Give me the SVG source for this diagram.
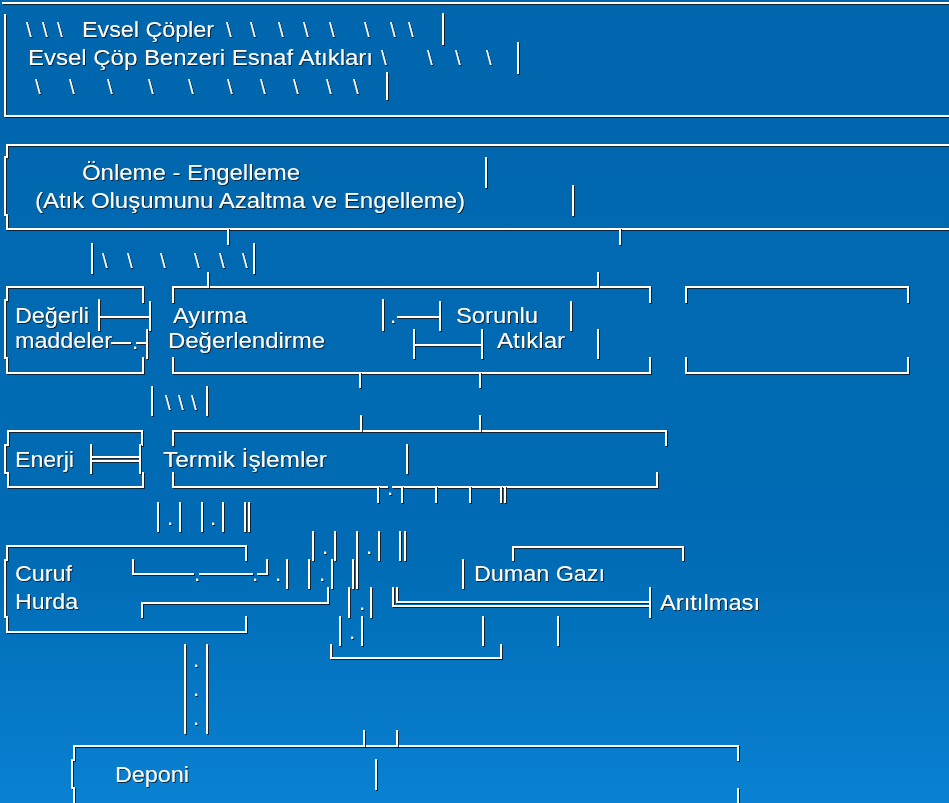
<svg xmlns="http://www.w3.org/2000/svg" width="949" height="803" viewBox="0 0 949 803">
<defs>
<linearGradient id="bg" x1="0" y1="0" x2="0" y2="1">
<stop offset="0" stop-color="#0066ad"/>
<stop offset="0.7" stop-color="#006cb5"/>
<stop offset="1" stop-color="#0a81d2"/>
</linearGradient>
<filter id="sh" x="-5%" y="-5%" width="110%" height="110%">
<feDropShadow dx="1" dy="1" stdDeviation="0.3" flood-color="#081828" flood-opacity="0.85"/>
</filter>
</defs>
<style>
.ln{fill:none;stroke:#ffffff;stroke-width:2;stroke-linecap:square;}
.t{font-family:"Liberation Sans",Arial,sans-serif;font-size:22px;fill:#ffffff;}
.bs{font-family:"Liberation Sans",Arial,sans-serif;font-size:20px;fill:#ffffff;}
.sh{filter:url(#sh);}
</style>
<rect width="949" height="803" fill="url(#bg)"/>

<g id="evsel" class="sh">
<path class="ln" d="M3,3 H949 M5,15 V114 M5,116 H949 M443,14 V44 M518,43 V73 M387,73 V99"/>
<text class="bs" y="37"><tspan x="26">\</tspan><tspan x="42">\</tspan><tspan x="57">\</tspan></text>
<text class="t" x="82" y="37" textLength="132" lengthAdjust="spacingAndGlyphs">Evsel Çöpler</text>
<text class="bs" y="37"><tspan x="226">\</tspan><tspan x="250">\</tspan><tspan x="278">\</tspan><tspan x="303">\</tspan><tspan x="329">\</tspan><tspan x="364">\</tspan><tspan x="390">\</tspan><tspan x="408">\</tspan></text>
<text class="t" x="28" y="65" textLength="345" lengthAdjust="spacingAndGlyphs">Evsel Çöp Benzeri Esnaf Atıkları</text>
<text class="bs" y="65"><tspan x="381">\</tspan><tspan x="427">\</tspan><tspan x="455">\</tspan><tspan x="486">\</tspan></text>
<text class="bs" y="94"><tspan x="35">\</tspan><tspan x="69">\</tspan><tspan x="107">\</tspan><tspan x="148">\</tspan><tspan x="188">\</tspan><tspan x="227">\</tspan><tspan x="260">\</tspan><tspan x="293">\</tspan><tspan x="326">\</tspan><tspan x="353">\</tspan></text>
</g>

<g id="onleme" class="sh">
<path class="ln" d="M949,145 H7 V157 H5 V215 H7 V229 H949 M486,158 V187 M573,186 V215"/>
<text class="t" x="82" y="180" textLength="218" lengthAdjust="spacingAndGlyphs">Önleme - Engelleme</text>
<text class="t" x="35" y="208" textLength="430" lengthAdjust="spacingAndGlyphs">(Atık Oluşumunu Azaltma ve Engelleme)</text>
</g>

<g id="degerli" class="sh">
<path class="ln" d="M143,302 V287 H7 V300 H5 V358 H7 V373 H143 V358"/>
<text class="t" x="15" y="323" textLength="74" lengthAdjust="spacingAndGlyphs">Değerli</text>
<text class="t" x="15" y="348" textLength="97" lengthAdjust="spacingAndGlyphs">maddeler</text>
</g>

<g id="ayirma" class="sh">
<path class="ln" d="M173,302 V287 H650 V302 M173,358 V373 H650 V358 M571,302 V330 M598,330 V358"/>
<text class="t" x="173" y="323" textLength="74" lengthAdjust="spacingAndGlyphs">Ayırma</text>
<text class="t" x="168" y="348" textLength="157" lengthAdjust="spacingAndGlyphs">Değerlendirme</text>
<text class="t" x="456" y="323" textLength="82" lengthAdjust="spacingAndGlyphs">Sorunlu</text>
<text class="t" x="497" y="348" textLength="68" lengthAdjust="spacingAndGlyphs">Atıklar</text>
</g>

<g id="bos" class="sh">
<path class="ln" d="M686,302 V287 H908 V302 M686,358 V373 H908 V358"/>
</g>

<g id="enerji" class="sh">
<path class="ln" d="M142,445 V431 H8 V445 H5 V473 H8 V487 H143 V473"/>
<text class="t" x="15" y="467" textLength="59" lengthAdjust="spacingAndGlyphs">Enerji</text>
</g>

<g id="termik" class="sh">
<path class="ln" d="M173,445 V431 H666 V445 M173,473 V487 H387 M393,487 H657 V473 M407,445 V473"/>
<text class="t" x="163" y="467" textLength="164" lengthAdjust="spacingAndGlyphs">Termik İşlemler</text>
</g>

<g id="curuf" class="sh">
<path class="ln" d="M246,560 V546 H7 V560 H5 V617 H7 V632 H246 V617"/>
<text class="t" x="15" y="581" textLength="57" lengthAdjust="spacingAndGlyphs">Curuf</text>
<text class="t" x="15" y="609" textLength="63" lengthAdjust="spacingAndGlyphs">Hurda</text>
</g>

<g id="duman" class="sh">
<path class="ln" d="M513,560 V547 H683 V560 M463,560 V588"/>
<text class="t" x="474" y="581" textLength="131" lengthAdjust="spacingAndGlyphs">Duman Gazı</text>
<text class="t" x="660" y="610" textLength="100" lengthAdjust="spacingAndGlyphs">Arıtılması</text>
</g>

<g id="deponi" class="sh">
<path class="ln" d="M74,803 V788 H72 V760 H74 V746 H738 V760 M738,789 V803 M376,760 V789"/>
<text class="t" x="115" y="782" textLength="74" lengthAdjust="spacingAndGlyphs">Deponi</text>
</g>

<g id="connectors" class="sh">
<path class="ln" d="M228,229 V244 M620,229 V244 M92,244 V273 M254,244 V273 M208,273 V287 M598,273 V287
M99,300 V330 M99,317 H150 M150,302 V330 M112,343 H130 M137,343 H147 M147,330 V358
M383,300 V330 M398,317 H440 M440,302 V330 M414,330 V358 M414,345 H482 M482,330 V358
M360,373 V387 M480,373 V387 M152,387 V415 M207,387 V415 M361,416 V431 M480,416 V431
M91,445 V473 M91,457 H140 M91,461 H140 M140,445 V473
M378,487 V502 M402,487 V502 M436,487 V502 M470,487 V502 M501,487 V502 M505,487 V502
M158,503 V531 M180,503 V531 M202,503 V531 M223,503 V531 M245,503 V531 M249,503 V531
M313,532 V560 M335,532 V560 M357,532 V560 M379,532 V560 M400,532 V560 M405,532 V560
M133,560 V574 H193 M200,574 H252 M258,574 H267 V560 M287,560 V588 M309,560 V588 M332,560 V588
M328,588 V603 H142 V617 M353,560 V588 M357,560 V588 M349,588 V617 M371,588 V617
M393,588 V606 H650 M397,588 V602 H650 M650,588 V617
M340,617 V645 M362,617 V645 M483,617 V645 M558,617 V645 M331,645 V658 H501 V645
M185,645 V733 M207,645 V733 M364,731 V746 M397,731 V746"/>
<text class="bs" y="268"><tspan x="102">\</tspan><tspan x="127">\</tspan><tspan x="160">\</tspan><tspan x="194">\</tspan><tspan x="219">\</tspan><tspan x="242">\</tspan></text>
<text class="bs" y="410"><tspan x="165">\</tspan><tspan x="178">\</tspan><tspan x="191">\</tspan></text>
<text class="t" y="349"><tspan x="132">.</tspan></text>
<text class="t" y="323"><tspan x="390">.</tspan></text>
<text class="t" y="495"><tspan x="387">.</tspan></text>
<text class="t" y="525"><tspan x="167">.</tspan><tspan x="210">.</tspan></text>
<text class="t" y="554"><tspan x="322">.</tspan><tspan x="366">.</tspan></text>
<text class="t" y="581"><tspan x="194">.</tspan><tspan x="252">.</tspan><tspan x="275">.</tspan><tspan x="319">.</tspan></text>
<text class="t" y="610"><tspan x="359">.</tspan></text>
<text class="t" y="639"><tspan x="349">.</tspan></text>
<text class="t" x="193" y="667">.</text>
<text class="t" x="193" y="696">.</text>
<text class="t" x="193" y="725">.</text>
</g>
</svg>
